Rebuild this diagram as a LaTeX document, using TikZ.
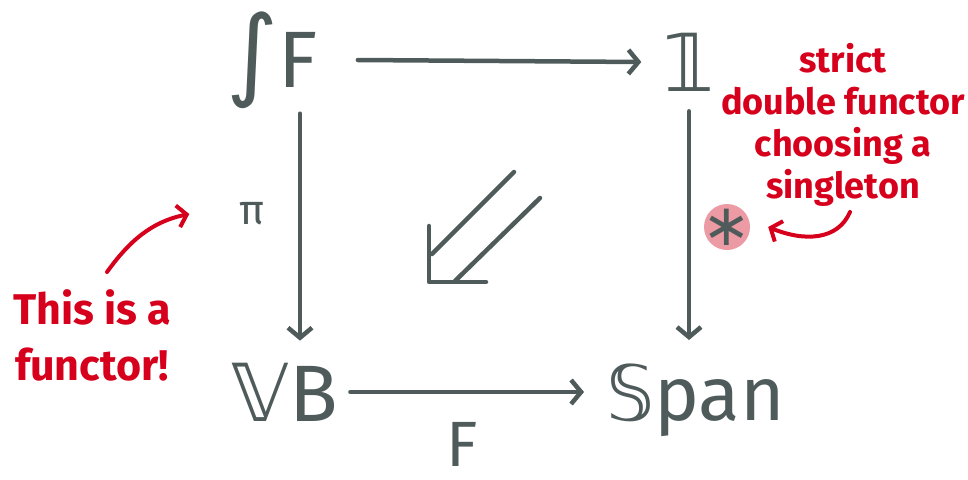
\documentclass[tikz,border=0pt]{standalone}
\usepackage{fontspec}
\setmainfont{Fira Sans}
\newfontfamily\dvs{DejaVu Sans}
\usetikzlibrary{arrows.meta}
\definecolor{slate}{HTML}{4F5B5B}
\definecolor{ink}{HTML}{D6001C}
\definecolor{blush}{HTML}{EC9AA3}
\begin{document}
\begin{tikzpicture}[x=1pt,y=-1pt,
  obj/.style={text=slate,font=\fontsize{80}{80}\selectfont,inner sep=0pt},
  lbl/.style={text=slate,inner sep=0pt},
  note/.style={text=ink,font=\fontsize{36}{42}\selectfont\bfseries,inner sep=0pt,align=center},
  arr/.style={draw=slate,line width=4.5pt,line cap=round,line join=round,
    -{Straight Barb[length=10pt,width=24pt,line width=4.5pt]}},
  twocell/.style={draw=slate,line width=4.5pt,line cap=round,line join=round},
  redarr/.style={draw=ink,line width=4pt,line cap=round,line join=round,
    -{Straight Barb[length=9pt,width=22pt,line width=4pt]}}]
\useasboundingbox (0,0) rectangle (968,479);
% objects
\node[obj] (intF) at (272,60) {{\dvs\fontsize{100}{100}\selectfont ∫}F};
\node[obj] (one) at (689,62) {{\dvs 𝟙}};
\node[obj] (VB) at (285,392) {{\dvs 𝕍}B};
\node[obj,anchor=base west,font=\fontsize{76}{76}\selectfont] (Span) at (606,420) {{\dvs 𝕊}pan};
% labels
\node[lbl,font=\fontsize{42}{42}\selectfont] (pi) at (252,214) {π};
\node[lbl,font=\fontsize{64}{64}\selectfont,anchor=base,text depth=0pt] (Flbl) at (462,466) {F};
\node[circle,fill=blush,minimum size=46pt,inner sep=0pt] (star) at (727,227) {};
\node[lbl,font=\fontsize{58}{58}\selectfont\dvs] at (star.center) {∗};
% arrows
\draw[arr] ([xshift=40pt]intF.east) -- ([xshift=-22pt]one.west);
\draw[arr] ([xshift=28pt,yshift=-5pt]intF.south) -- ([xshift=15pt,yshift=22pt]VB.north);
\draw[arr] ([yshift=-20pt]one.south) -- (one.south |- 0,340);
\draw[arr] ([xshift=12pt]VB.east) -- ([xshift=-22pt]VB.east -| Span.west);
% 2-cell
\draw[twocell] (514,172) -- (432,254);
\draw[twocell] (540,198) -- (455,281);
\draw[twocell] (429,226) -- (429,282) -- (486,282);
% notes
\node[note] (right note) at (843,125) {strict\\double functor\\choosing a\\singleton};
\node[note,font=\fontsize{43}{56}\selectfont\bfseries] (left note) at (92,335) {This is a\\functor!};
\coordinate (rn tail) at (850,212);
\coordinate (ln tail) at (107,272);
\draw[redarr] (rn tail) .. controls (838,240) and (805,242) .. ([xshift=18pt]star.east);
\draw[redarr] (ln tail) .. controls (128,243) and (150,222) .. ([xshift=-50pt]pi.west);
\end{tikzpicture}
\end{document}
